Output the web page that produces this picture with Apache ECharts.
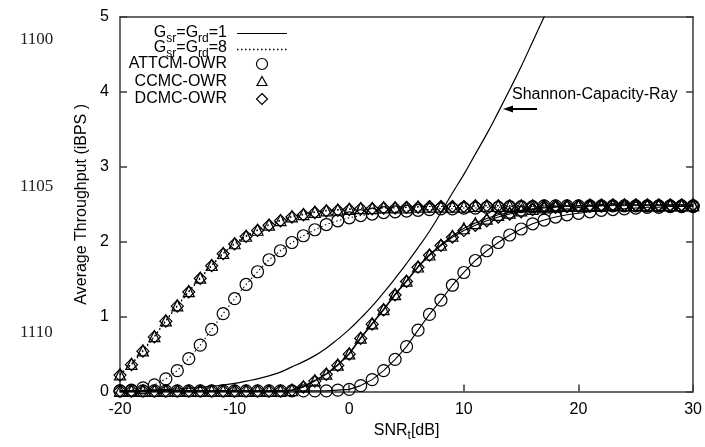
<!DOCTYPE html>
<html><head><meta charset="utf-8">
<script src="https://cdn.jsdelivr.net/npm/echarts@6/dist/echarts.min.js"></script>
<style>html,body{margin:0;padding:0;background:#fff}#c{width:705px;height:447px}</style>
</head><body><div id="c"></div>
<script>
// SNR_t [dB]
const snr = [-20,-19,-18,-17,-16,-15,-14,-13,-12,-11,-10,-9,-8,-7,-6,-5,-4,-3,-2,-1,0,1,2,3,4,5,6,7,8,9,10,11,12,13,14,15,16,17,18,19,20,21,22,23,24,25,26,27,28,29,30];
// Shannon capacity ray (G_sr=G_rd=1), SNR -20..18
const shannonX = [-20,-19,-18,-17,-16,-15,-14,-13,-12,-11,-10,-9,-8,-7,-6,-5,-4,-3,-2,-1,0,1,2,3,4,5,6,7,8,9,10,11,12,13,14,15,16,17,18];
const shannon = [0.01,0.014,0.018,0.022,0.028,0.035,0.045,0.055,0.07,0.09,0.11,0.14,0.17,0.21,0.26,0.33,0.40,0.48,0.58,0.70,0.83,0.98,1.14,1.32,1.51,1.71,1.92,2.14,2.39,2.65,2.90,3.17,3.44,3.73,4.03,4.34,4.67,5.0,5.33];
// G_sr=G_rd=1 (solid)
const attcm1 = [0.01,0.01,0.01,0.01,0.01,0.01,0.01,0.01,0.01,0.01,0.01,0.01,0.01,0.01,0.01,0.01,0.01,0.01,0.01,0.02,0.03,0.08,0.16,0.28,0.43,0.60,0.82,1.03,1.22,1.42,1.59,1.75,1.88,1.99,2.09,2.17,2.24,2.29,2.33,2.36,2.38,2.40,2.42,2.43,2.44,2.45,2.46,2.46,2.47,2.47,2.47];
const ccmc1 = [0.01,0.01,0.01,0.01,0.01,0.01,0.01,0.01,0.01,0.01,0.01,0.01,0.01,0.01,0.01,0.02,0.07,0.15,0.24,0.36,0.51,0.72,0.91,1.10,1.30,1.48,1.67,1.83,1.96,2.08,2.18,2.25,2.31,2.36,2.39,2.42,2.44,2.46,2.47,2.48,2.48,2.48,2.48,2.49,2.49,2.49,2.49,2.49,2.49,2.49,2.49];
const dcmc1 = [0.01,0.01,0.01,0.01,0.01,0.01,0.01,0.01,0.01,0.01,0.01,0.01,0.01,0.01,0.01,0.02,0.06,0.14,0.23,0.35,0.50,0.71,0.90,1.09,1.29,1.47,1.66,1.82,1.95,2.06,2.15,2.22,2.28,2.33,2.37,2.40,2.43,2.45,2.46,2.47,2.48,2.48,2.48,2.49,2.49,2.49,2.49,2.49,2.49,2.49,2.49];
// G_sr=G_rd=8 (dotted)
const attcm8 = [0.01,0.02,0.05,0.09,0.17,0.28,0.44,0.62,0.83,1.04,1.24,1.43,1.60,1.76,1.88,1.99,2.08,2.16,2.23,2.28,2.32,2.35,2.37,2.39,2.40,2.41,2.42,2.43,2.44,2.44,2.45,2.45,2.46,2.46,2.47,2.47,2.47,2.48,2.48,2.48,2.48,2.48,2.48,2.48,2.48,2.48,2.48,2.48,2.48,2.48,2.48];
const ccmc8 = [0.23,0.37,0.55,0.74,0.95,1.15,1.34,1.52,1.69,1.85,1.98,2.08,2.16,2.23,2.29,2.34,2.37,2.40,2.42,2.43,2.44,2.45,2.45,2.46,2.46,2.46,2.47,2.47,2.47,2.47,2.47,2.48,2.48,2.48,2.48,2.48,2.48,2.48,2.48,2.48,2.48,2.49,2.49,2.49,2.49,2.49,2.49,2.49,2.49,2.49,2.49];
const dcmc8 = [0.22,0.36,0.54,0.73,0.94,1.14,1.33,1.51,1.68,1.84,1.97,2.07,2.15,2.22,2.28,2.33,2.36,2.39,2.41,2.42,2.43,2.44,2.44,2.45,2.45,2.46,2.46,2.47,2.47,2.47,2.47,2.48,2.48,2.48,2.48,2.48,2.48,2.48,2.48,2.48,2.48,2.49,2.49,2.49,2.49,2.49,2.49,2.49,2.49,2.49,2.49];
// axis ticks
const xTicks = [-20,-10,0,10,20,30];
const yTicks = [0,1,2,3,4,5];

const FONT = '"Liberation Sans", Arial, sans-serif';
const pair = (xs, ys) => xs.map((x, i) => [x, ys[i]]);
const DOT = [1.5, 2.5];

function markSeries(name, ys, symbol, size, dotted) {
  return {
    name, type: 'line', data: pair(snr, ys), symbol, symbolSize: size,
    showAllSymbol: true, clip: false,
    itemStyle: {color: 'rgba(0,0,0,0)', borderColor: '#000', borderWidth: 1.2},
    lineStyle: {color: '#000', width: 1.1, type: dotted ? DOT : 'solid'},
    emphasis: {disabled: true}, z: 3
  };
}

const chart = echarts.init(document.getElementById('c'), null, {renderer: 'canvas'});
const axisLine = {show: true, onZero: false, lineStyle: {color: '#3a3a3a', width: 1.5}};
const sub = {
  a: {fontSize: 16, fontFamily: FONT, color: '#000', padding: [0, 0, 4, 0]},
  s: {fontSize: 12, fontFamily: FONT, color: '#000', padding: [7, 0, 0, 0]}
};

chart.setOption({
  animation: false,
  backgroundColor: '#fff',
  grid: {left: 120, right: 8, top: 17, bottom: 48, containLabel: false},
  xAxis: [{
    type: 'value', min: xTicks[0], max: xTicks[xTicks.length - 1], interval: 10,
    axisLine, axisTick: {show: true, inside: true, length: 7, lineStyle: {color: '#3a3a3a', width: 1.5}},
    splitLine: {show: false},
    axisLabel: {fontSize: 16, fontFamily: FONT, color: '#000', margin: 10},
    name: '{a|SNR}{s|t}{a|[dB]}', nameLocation: 'middle', nameGap: 29,
    nameTextStyle: {rich: sub}
  }, {
    type: 'value', position: 'top', min: -20, max: 30, interval: 10,
    axisLine, axisTick: {show: false}, axisLabel: {show: false}, splitLine: {show: false}
  }],
  yAxis: [{
    type: 'value', min: yTicks[0], max: yTicks[yTicks.length - 1], interval: 1,
    axisLine, axisTick: {show: true, inside: true, length: 7, lineStyle: {color: '#3a3a3a', width: 1.5}},
    splitLine: {show: false},
    axisLabel: {fontSize: 16, fontFamily: FONT, color: '#000', margin: 11},
    name: 'Average Throughput (iBPS )', nameLocation: 'middle', nameGap: 30,
    nameTextStyle: {fontSize: 16, fontFamily: FONT, color: '#000'}
  }, {
    type: 'value', position: 'right', min: 0, max: 5, interval: 1,
    axisLine, axisTick: {show: true, inside: true, length: 7, lineStyle: {color: '#3a3a3a', width: 1.5}},
    axisLabel: {show: false}, splitLine: {show: false}
  }],
  series: [
    {name: 'Shannon', type: 'line', data: pair(shannonX, shannon), smooth: true, symbol: 'none',
     lineStyle: {color: '#000', width: 1.2}, emphasis: {disabled: true}, z: 2},
    markSeries('ATTCM-OWR G1', attcm1, 'circle', 12, false),
    markSeries('CCMC-OWR G1', ccmc1, 'triangle', 11, false),
    markSeries('DCMC-OWR G1', dcmc1, 'diamond', 12, false),
    markSeries('ATTCM-OWR G8', attcm8, 'circle', 12, true),
    markSeries('CCMC-OWR G8', ccmc8, 'triangle', 11, true),
    markSeries('DCMC-OWR G8', dcmc8, 'diamond', 12, true)
  ],
  graphic: [
    // line numbers of the source paper
    {type: 'text', left: 20, top: 31, style: {text: '1100', font: '17px "Liberation Serif", "Times New Roman", serif', fill: '#222'}},
    {type: 'text', left: 20, top: 178, style: {text: '1105', font: '17px "Liberation Serif", "Times New Roman", serif', fill: '#222'}},
    {type: 'text', left: 20, top: 324, style: {text: '1110', font: '17px "Liberation Serif", "Times New Roman", serif', fill: '#222'}},
    // legend
    {type: 'text', x: 227, y: 35, style: {text: '{a|G}{s|sr}{a|=G}{s|rd}{a|=1}', rich: sub, align: 'right', verticalAlign: 'middle'}},
    {type: 'text', x: 227, y: 50, style: {text: '{a|G}{s|sr}{a|=G}{s|rd}{a|=8}', rich: sub, align: 'right', verticalAlign: 'middle'}},
    {type: 'text', x: 227, y: 64, style: {text: 'ATTCM-OWR', font: '16px ' + FONT, fill: '#000', align: 'right', verticalAlign: 'middle'}},
    {type: 'text', x: 227, y: 81.5, style: {text: 'CCMC-OWR', font: '16px ' + FONT, fill: '#000', align: 'right', verticalAlign: 'middle'}},
    {type: 'text', x: 227, y: 99, style: {text: 'DCMC-OWR', font: '16px ' + FONT, fill: '#000', align: 'right', verticalAlign: 'middle'}},
    {type: 'line', shape: {x1: 237, y1: 33.5, x2: 287, y2: 33.5}, style: {stroke: '#000', lineWidth: 1}},
    {type: 'line', shape: {x1: 237, y1: 49.5, x2: 287, y2: 49.5}, style: {stroke: '#000', lineWidth: 1.5, lineDash: DOT}},
    {type: 'circle', shape: {cx: 262, cy: 64, r: 5.5}, style: {stroke: '#000', fill: 'none', lineWidth: 1.2}},
    {type: 'polygon', shape: {points: [[262, 76.5], [267, 85.5], [257, 85.5]]}, style: {stroke: '#000', fill: 'none', lineWidth: 1.2}},
    {type: 'polygon', shape: {points: [[262, 93.5], [267.5, 99], [262, 104.5], [256.5, 99]]}, style: {stroke: '#000', fill: 'none', lineWidth: 1.2}},
    // annotation
    {type: 'text', x: 512, y: 95, style: {text: 'Shannon-Capacity-Ray', font: '16px ' + FONT, fill: '#000', verticalAlign: 'middle'}},
    {type: 'line', shape: {x1: 537, y1: 109, x2: 508, y2: 109}, style: {stroke: '#000', lineWidth: 2}},
    {type: 'polygon', shape: {points: [[503, 109], [513, 105.5], [513, 112.5]]}, style: {fill: '#000'}}
  ]
});
</script>
</body></html>
